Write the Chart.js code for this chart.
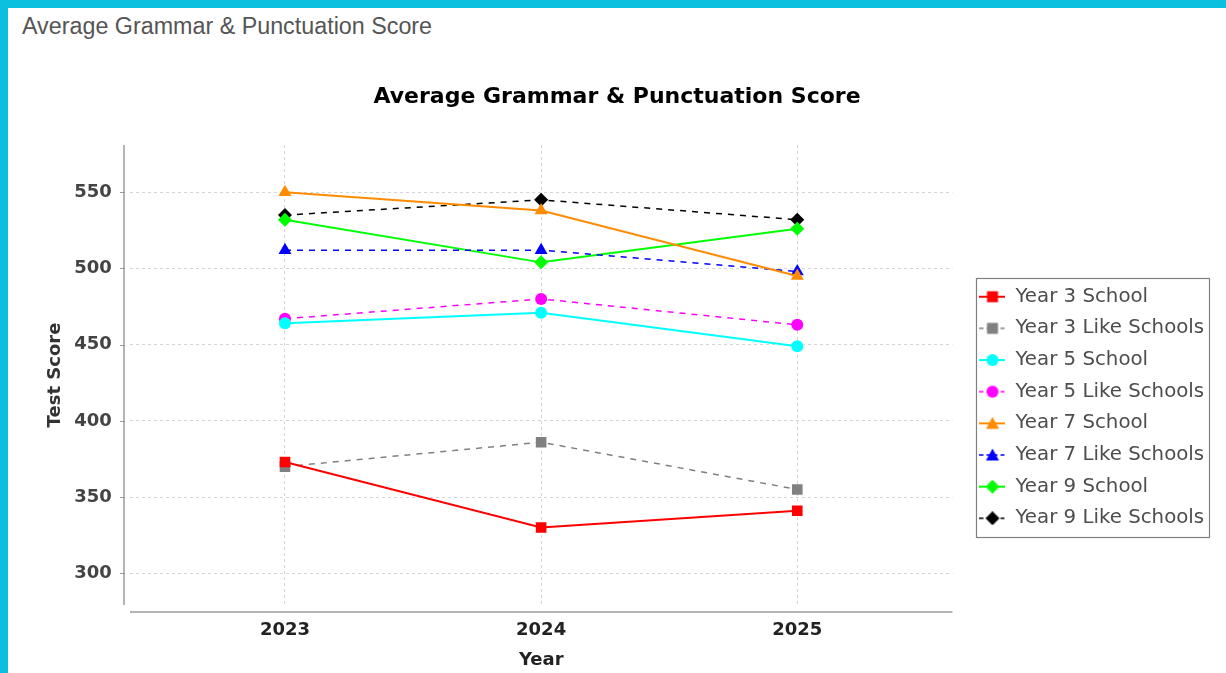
<!DOCTYPE html>
<html>
<head>
<meta charset="utf-8">
<script src="https://cdn.jsdelivr.net/npm/chart.js@4.4.1/dist/chart.umd.min.js"></script>
<style>
html, body { margin: 0; padding: 0; background: #fff; overflow: hidden; width: 1226px; height: 673px; }
.topbar { position: absolute; left: 0; top: 0; width: 1226px; height: 8px; background: #0bbfdf; }
.sidebar { position: absolute; left: 0; top: 0; width: 8px; height: 673px; background: #0bbfdf; }
.header { position: absolute; left: 22px; top: 15px; font: 23.3px/23px "Liberation Sans", Arial, sans-serif; color: #555; white-space: nowrap; }
#gpChart { position: absolute; left: 10px; top: 60px; }
</style>
</head>
<body>
<div class="topbar"></div>
<div class="sidebar"></div>
<div class="header">Average Grammar &amp; Punctuation Score</div>
<canvas id="gpChart" width="1216" height="695"></canvas>
<script>
const years = [2023, 2024, 2025];
const yearLabels = ['2023', '2024', '2025'];
const yTickValues = [300, 350, 400, 450, 500, 550];

const seriesNames = [
    'Year 3 School', 'Year 3 Like Schools',
    'Year 5 School', 'Year 5 Like Schools',
    'Year 7 School', 'Year 7 Like Schools',
    'Year 9 School', 'Year 9 Like Schools'
];

const year3School = [373, 330, 341];
const year3Like = [370, 386, 355];
const year5School = [464, 471, 449];
const year5Like = [467, 480, 463];
const year7School = [550, 538, 495];
const year7Like = [512, 512, 498];
const year9School = [532, 504, 526];
const year9Like = [535, 545, 532];

const seriesValues = [year3School, year3Like, year5School, year5Like,
                      year7School, year7Like, year9School, year9Like];

// look of each series
const seriesColors = ['#ff0000', '#808080', '#00ffff', '#ff00ff', '#ff8c00', '#0000ff', '#00ff00', '#000000'];
const seriesShapes = ['rect', 'rect', 'circle', 'circle', 'triangle', 'triangle', 'rectRot', 'rectRot'];
const seriesDashed = [false, true, false, true, false, true, false, true];
const shapeRadius = { rect: 7.5, circle: 6, triangle: 7.5, rectRot: 7 };

const axisFont = { family: 'DejaVu Sans', size: 18, weight: 'bold' };

function makeIcon(color, shape, dashed) {
    const c = document.createElement('canvas');
    c.width = 26;
    c.height = 14;
    const g = c.getContext('2d');
    g.strokeStyle = color;
    g.lineWidth = dashed ? 1.5 : 2;
    g.setLineDash(dashed ? [4, 3] : []);
    g.beginPath();
    g.moveTo(0, 7);
    g.lineTo(26, 7);
    g.stroke();
    g.fillStyle = color;
    g.beginPath();
    if (shape === 'rect') {
        g.rect(7.5, 1.5, 11, 11);
    } else if (shape === 'circle') {
        g.arc(13, 7, 6, 0, Math.PI * 2);
    } else if (shape === 'triangle') {
        g.moveTo(13, 0.5); g.lineTo(19.5, 12.5); g.lineTo(6.5, 12.5); g.closePath();
    } else {
        g.moveTo(13, 0); g.lineTo(20, 7); g.lineTo(13, 14); g.lineTo(6, 7); g.closePath();
    }
    g.fill();
    return c;
}

const icons = seriesNames.map((_, i) => makeIcon(seriesColors[i], seriesShapes[i], seriesDashed[i]));

const datasets = seriesNames.map((name, i) => ({
    label: name,
    data: years.map((yr, j) => ({ x: yr, y: seriesValues[i][j] })),
    borderColor: seriesColors[i],
    backgroundColor: seriesColors[i],
    borderWidth: seriesDashed[i] ? 1.5 : 2,
    borderDash: seriesDashed[i] ? [6, 6] : [],
    pointStyle: seriesShapes[i],
    pointRadius: shapeRadius[seriesShapes[i]],
    pointHoverRadius: shapeRadius[seriesShapes[i]],
    pointBorderWidth: 0,
    pointBackgroundColor: seriesColors[i],
    tension: 0,
    fill: false
}));

// offset axis lines, small y tick marks and the legend frame
const framePlugin = {
    id: 'frame',
    afterLayout(chart) {
        // leave a gap between the plot and the legend, like the original
        const lg = chart.legend;
        const shift = chart.chartArea.right + 27 - (lg.left + lg.options.labels.padding);
        lg.left += shift;
        lg.right += shift;
    },
    afterDraw(chart) {
        const ctx = chart.ctx;
        const a = chart.chartArea;
        ctx.save();
        ctx.strokeStyle = '#b4b4b4';
        ctx.lineWidth = 2;
        ctx.beginPath();
        ctx.moveTo(a.left - 6, a.top);
        ctx.lineTo(a.left - 6, a.bottom);
        ctx.moveTo(a.left, a.bottom + 7);
        ctx.lineTo(a.right, a.bottom + 7);
        ctx.stroke();

        ctx.lineWidth = 1;
        ctx.strokeStyle = '#999';
        const ys = chart.scales.y;
        ctx.beginPath();
        yTickValues.forEach(v => {
            const py = Math.round(ys.getPixelForValue(v)) + 0.5;
            ctx.moveTo(a.left - 10, py);
            ctx.lineTo(a.left - 5, py);
        });
        ctx.stroke();

        const boxes = chart.legend.legendHitBoxes;
        if (boxes && boxes.length) {
            const l = Math.min(...boxes.map(b => b.left)) - 3;
            const t = Math.min(...boxes.map(b => b.top)) - 8.7;
            const r = Math.max(...boxes.map(b => b.left + b.width)) + 5;
            const btm = Math.max(...boxes.map(b => b.top + b.height)) + 8.7;
            ctx.strokeStyle = '#808080';
            ctx.lineWidth = 1.2;
            ctx.strokeRect(Math.round(l) + 0.5, Math.round(t) + 0.5, Math.round(r - l), Math.round(btm - t));
        }
        ctx.restore();
    }
};

new Chart(document.getElementById('gpChart'), {
    type: 'line',
    data: { datasets },
    plugins: [framePlugin],
    options: {
        responsive: false,
        animation: false,
        layout: { padding: { left: 25, top: 0, right: 27, bottom: 0 } },
        plugins: {
            title: {
                display: true,
                text: 'Average Grammar & Punctuation Score',
                color: '#000',
                font: { family: 'DejaVu Sans', size: 22, weight: 'bold' },
                padding: { top: 23.8, bottom: 34.8 }
            },
            legend: {
                position: 'right',
                align: 'center',
                labels: {
                    usePointStyle: true,
                    pointStyleWidth: 26,
                    padding: 11.86,
                    color: '#4d4d4d',
                    font: { family: 'DejaVu Sans', size: 19.8 },
                    generateLabels(chart) {
                        const items = Chart.defaults.plugins.legend.labels.generateLabels(chart);
                        items.forEach((it, i) => { it.pointStyle = icons[i]; });
                        return items;
                    }
                }
            },
            tooltip: { enabled: false }
        },
        scales: {
            x: {
                type: 'linear',
                min: 2022.395,
                max: 2025.606,
                afterBuildTicks(s) { s.ticks = years.map(v => ({ value: v })); },
                afterFit(s) { s.height = 150; },
                grid: { color: '#d6d6d6', lineWidth: 1, drawTicks: false },
                border: { display: false, dash: [3, 3] },
                ticks: {
                    padding: 14.5,
                    color: '#222',
                    font: axisFont,
                    callback: v => yearLabels[years.indexOf(v)]
                },
                title: { display: true, text: 'Year', color: '#222', font: axisFont, padding: { top: 0, bottom: 84 } }
            },
            y: {
                type: 'linear',
                min: 279.2,
                max: 581,
                afterBuildTicks(s) { s.ticks = yTickValues.map(v => ({ value: v })); },
                afterFit(s) { s.width = 95; },
                grid: { color: '#d6d6d6', lineWidth: 1, drawTicks: false },
                border: { display: false, dash: [3, 3] },
                ticks: { padding: 18.3, color: '#444', font: axisFont },
                title: { display: true, text: 'Test Score', color: '#333', font: axisFont, padding: { top: 9.2, bottom: 0 } }
            }
        }
    }
});
</script>
</body>
</html>
